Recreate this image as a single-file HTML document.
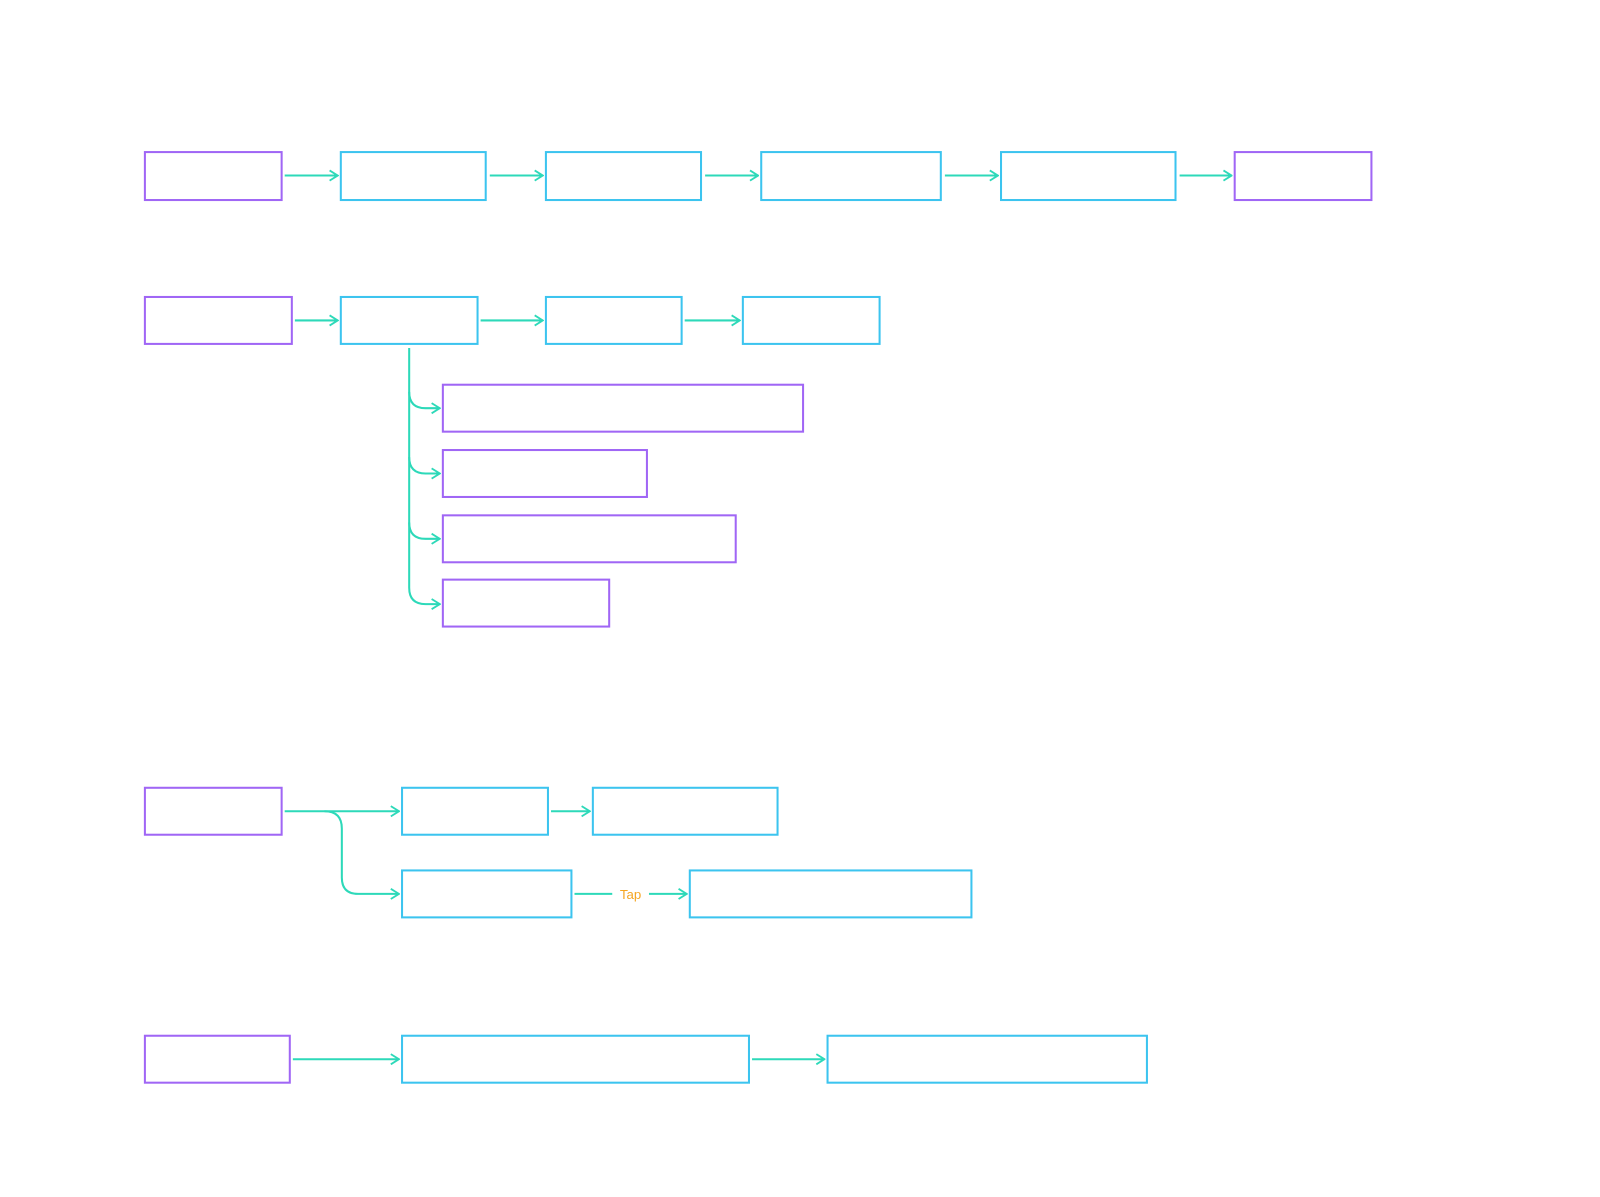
<!DOCTYPE html>
<html><head><meta charset="utf-8"><style>
html,body{margin:0;padding:0;background:#fff;width:1600px;height:1197px;overflow:hidden}
svg{display:block}
text{font-family:"Liberation Sans",sans-serif;}
</style></head><body>
<svg width="1600" height="1197" viewBox="0 0 1568 1173" xmlns="http://www.w3.org/2000/svg">
<defs>
<marker id="a" viewBox="0 0 10 12" refX="9" refY="6" markerWidth="10" markerHeight="12" markerUnits="userSpaceOnUse" orient="auto">
<path d="M1 1 L9 6 L1 11" fill="none" stroke="#2dd9b9" stroke-width="1.8"/>
</marker>
</defs>
<g fill="#fff" font-size="16">
<text x="140" y="86">Flow</text>
<text x="100" y="706">Navigation flows</text>
</g>
<g fill="none" stroke-width="2">
<g stroke="#a066f5">
<rect x="142" y="149" width="134" height="47"/>
<rect x="1210" y="149" width="134" height="47"/>
<rect x="142" y="291" width="144" height="46"/>
<rect x="434" y="377" width="353" height="46"/>
<rect x="434" y="441" width="200" height="46"/>
<rect x="434" y="505" width="287" height="46"/>
<rect x="434" y="568" width="163" height="46"/>
<rect x="142" y="772" width="134" height="46"/>
<rect x="142" y="1015" width="142" height="46"/>
</g>
<g stroke="#3cc4ef">
<rect x="334" y="149" width="142" height="47"/>
<rect x="535" y="149" width="152" height="47"/>
<rect x="746" y="149" width="176" height="47"/>
<rect x="981" y="149" width="171" height="47"/>
<rect x="334" y="291" width="134" height="46"/>
<rect x="535" y="291" width="133" height="46"/>
<rect x="728" y="291" width="134" height="46"/>
<rect x="394" y="772" width="143" height="46"/>
<rect x="581" y="772" width="181" height="46"/>
<rect x="394" y="853" width="166" height="46"/>
<rect x="676" y="853" width="276" height="46"/>
<rect x="394" y="1015" width="340" height="46"/>
<rect x="811" y="1015" width="313" height="46"/>
</g>
<g stroke="#2dd9b9" marker-end="url(#a)">
<path d="M279 172H331"/><path d="M480 172H532"/><path d="M691 172H743"/><path d="M926 172H978"/><path d="M1156 172H1207"/>
<path d="M289 314H331"/><path d="M471 314H532"/><path d="M671 314H725"/>
<path d="M401 341V384Q401 400 417 400H431"/>
<path d="M401 384V448Q401 464 417 464H431"/>
<path d="M401 448V512Q401 528 417 528H431"/>
<path d="M401 512V576Q401 592 417 592H431"/>
<path d="M279 795H391"/>
<path d="M318 795Q335 795 335 812V860Q335 876 351 876H391"/>
<path d="M540 795H578"/>
<path d="M636 876H673"/>
<path d="M287 1038H391"/><path d="M737 1038H808"/>
</g>
<path d="M563 876H600" stroke="#2dd9b9"/>
</g>
<text x="618" y="881" fill="#f5a623" font-size="13" text-anchor="middle">Tap</text>
<g fill="#fff" font-size="11" text-anchor="middle">
<text x="209" y="176">Start</text><text x="405" y="176">Step</text><text x="611" y="176">Step</text><text x="834" y="176">Step</text><text x="1066" y="176">Step</text><text x="1277" y="176">End</text>
</g>
</svg>
</body></html>
